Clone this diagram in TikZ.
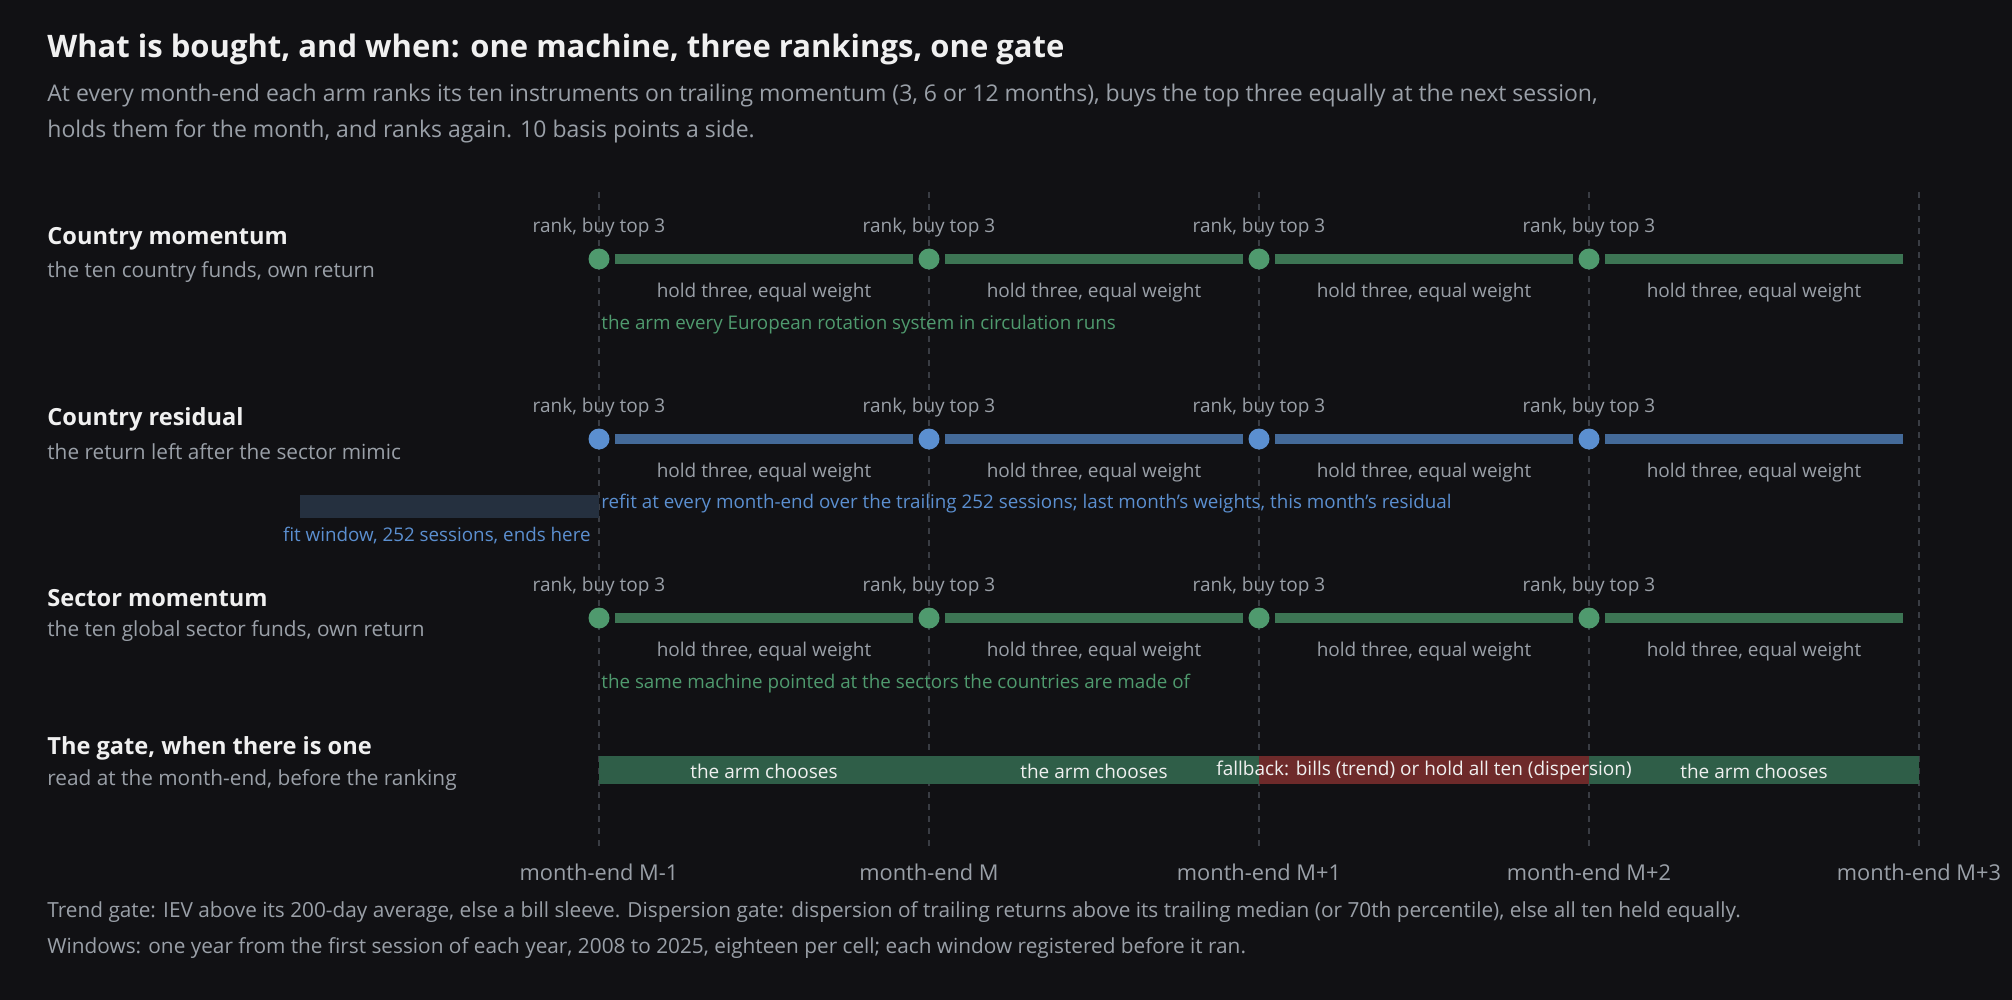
\documentclass[tikz,border=0pt]{standalone}
\usepackage{fontspec}
\setmainfont{Open Sans}
\definecolor{bg}{HTML}{111114}
\definecolor{ink}{HTML}{F0F0F0}
\definecolor{mute}{HTML}{9AA0A8}
\definecolor{grid}{HTML}{3A3D44}
\definecolor{grn}{HTML}{4F9A6E}
\definecolor{grnbar}{HTML}{3D7554}
\definecolor{blu}{HTML}{5B8FD0}
\definecolor{blubar}{HTML}{446A99}
\definecolor{gatebar}{HTML}{2F5E48}
\definecolor{redbar}{HTML}{6E2A2A}
\definecolor{fitbox}{HTML}{25303F}
\begin{document}
\begin{tikzpicture}[x = 0.5pt, y = -0.5pt,
	title/.style = {anchor = west, inner xsep = 0pt, text = ink, font = \fontsize{15.5}{18}\selectfont\bfseries},
	head/.style = {anchor = west, inner xsep = 0pt, text = ink, font = \fontsize{11.8}{14}\selectfont\bfseries},
	lead/.style = {anchor = west, inner xsep = 0pt, text = mute, font = \fontsize{11.5}{14}\selectfont},
	sub/.style = {anchor = west, inner xsep = 0pt, text = mute, font = \fontsize{10.4}{13}\selectfont},
	lbl/.style = {text = mute, font = \fontsize{9.5}{11}\selectfont},
	note/.style = {anchor = west, font = \fontsize{9.4}{11}\selectfont, inner xsep = 0pt}]

	% Definitions

	\def\W{330}		% Month width
	\def\X{599}		% First month-end

	% Background

	\fill [bg] (0, 0) rectangle (2012, 1000);

	% Heading

	\node [title] (head) at (47, 49) {What is bought, and when: one machine, three rankings, one gate};
	\node [lead] (lead1) at (47, 96) {At every month-end each arm ranks its ten instruments on trailing momentum (3, 6 or 12 months), buys the top three equally at the next session,};
	\node [lead] (lead2) at (47, 131) {holds them for the month, and ranks again. 10 basis points a side.};

	% Month-end grid

	\foreach \M/\T in {0/M-1, 1/M, 2/M+1, 3/M+2, 4/M+3} {
		\coordinate (top\M) at ({\X + \W * \M}, 192);
		\coordinate (bot\M) at ({\X + \W * \M}, 847);
		\draw [grid, dashed, line width = 0.8pt] (top\M) -- (bot\M);
		\node [lbl, font = \fontsize{10.9}{13}\selectfont] (me\M) at ({\X + \W * \M}, 872) {month-end \T};
	}

	% Arms

	\foreach \Arm/\Dy/\Dcol/\Bcol/\Nm/\Sb in {
		1/0/grn/grnbar/Country momentum/{the ten country funds, own return},
		2/180/blu/blubar/Country residual/the return left after the sector mimic,
		3/359/grn/grnbar/Sector momentum/{the ten global sector funds, own return}} {
		\node [head] (arm\Arm) at (47, {239 + \Dy}) {\Nm};
		\node [sub] (armsub\Arm) at (47, {272 + \Dy}) {\Sb};
		\foreach \M in {0, 1, 2, 3} {
			\fill [\Dcol] ({\X + \W * \M}, {259 + \Dy}) circle (10.5) coordinate (dot\Arm\M);
			\node [lbl] (rank\Arm\M) at ({\X + \W * \M}, {228 + \Dy}) {rank, buy top 3};
			\fill [\Bcol] ({\X + \W * \M + 16}, {254 + \Dy}) rectangle ({\X + \W * \M + \W - 16}, {264 + \Dy});
			\node [lbl] (hold\Arm\M) at ({\X + \W * \M + \W / 2}, {293 + \Dy}) {hold three, equal weight};
		}
	}

	% Notes under the arms

	\node [note, text = grn] (note1) at (601, 325) {the arm every European rotation system in circulation runs};
	\fill [fitbox] (300, 495) rectangle (599, 518);
	\node [note, text = blu] (note2) at (601, 504) {refit at every month-end over the trailing 252 sessions; last month's weights, this month's residual};
	\node [note, text = blu, anchor = east] (fit) at (591, 536) {fit window, 252 sessions, ends here};
	\node [note, text = grn] (note3) at (601, 684) {the same machine pointed at the sectors the countries are made of};

	% Gate

	\node [head] (gate) at (47, 748) {The gate, when there is one};
	\node [sub] (gatesub) at (47, 780) {read at the month-end, before the ranking};
	\fill [gatebar] (599, 756) rectangle (1919, 784);
	\fill [redbar] (1259, 756) rectangle (1589, 784);
	\node [lbl, text = ink] (g0) at (764, 771) {the arm chooses};
	\node [lbl, text = ink] (g1) at (1094, 771) {the arm chooses};
	\node [lbl, text = ink] (g2) at (1424, 771) {fallback: bills (trend) or hold all ten (dispersion)};
	\node [lbl, text = ink] (g3) at (1754, 771) {the arm chooses};

	% Footer

	\node [sub] (foot1) at (47, 912) {Trend gate: IEV above its 200-day average, else a bill sleeve. Dispersion gate: dispersion of trailing returns above its trailing median (or 70th percentile), else all ten held equally.};
	\node [sub] (foot2) at (47, 948) {Windows: one year from the first session of each year, 2008 to 2025, eighteen per cell; each window registered before it ran.};

\end{tikzpicture}
\end{document}
